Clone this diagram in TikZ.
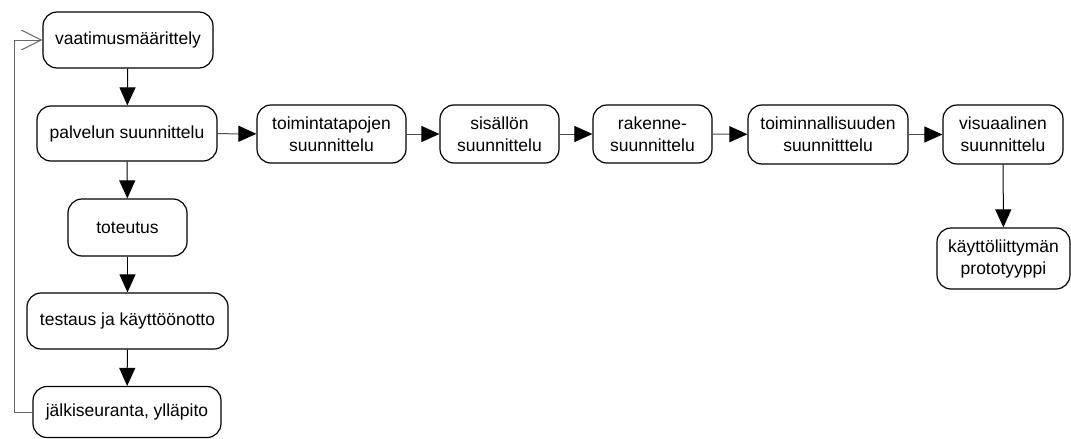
\documentclass[tikz,border=0pt]{standalone}
\usepackage{fontspec}
\setmainfont{Liberation Sans}
\usetikzlibrary{arrows.meta}
\begin{document}
\begin{tikzpicture}[x=1pt,y=-1pt,
  box/.style={draw=black,line width=1.2pt,rounded corners=14pt,align=center,
    inner sep=0pt,font=\fontsize{17.5}{22}\selectfont},
  flow/.style={line width=1pt,-{Triangle[length=18pt,width=16pt,color=black]}},
  back/.style={line width=1pt,draw=black!60,-{Straight Barb[length=20pt,width=20pt,line width=1pt]}}]
\useasboundingbox (0,0) rectangle (1071,439);
% left column: main process
\node[box,minimum width=170pt,minimum height=56pt] (vaat) at (128,40) {vaatimusmäärittely};
\node[box,minimum width=180pt,minimum height=55pt] (palv) at (127,133.5) {palvelun suunnittelu};
\node[box,minimum width=119pt,minimum height=57pt] (tote) at (127.5,227.5) {toteutus};
\node[box,minimum width=201pt,minimum height=56pt] (test) at (127.5,321) {testaus ja käyttöönotto};
\node[box,minimum width=188pt,minimum height=51pt] (jalk) at (127,412) {jälkiseuranta, ylläpito};
% design row
\node[box,minimum width=149pt,minimum height=58pt] (toim) at (331.5,134) {toimintatapojen\\suunnittelu};
\node[box,minimum width=119pt,minimum height=58pt] (sis) at (499.5,134) {sisällön\\suunnittelu};
\node[box,minimum width=119pt,minimum height=58pt] (rak) at (652.5,134) {rakenne-\\suunnittelu};
\node[box,minimum width=160pt,minimum height=59pt] (toimn) at (828,134.5) {toiminnallisuuden\\suunnitttelu};
\node[box,minimum width=120pt,minimum height=59pt] (vis) at (1003,134.5) {visuaalinen\\suunnittelu};
\node[box,minimum width=133pt,minimum height=61pt] (kay) at (1003.5,258.5) {käyttöliittymän\\prototyyppi};
% connectors
\draw[flow] (vaat) -- (palv);
\draw[flow] (palv) -- (tote);
\draw[flow] (tote) -- (test);
\draw[flow] (test) -- (jalk);
\draw[flow,draw=black!70] (palv) -- (toim);
\draw[flow,draw=black!70] (toim) -- (sis);
\draw[flow,draw=black!70] (sis) -- (rak);
\draw[flow,draw=black!70] (rak) -- (toimn);
\draw[flow,draw=black!70] (toimn) -- (vis);
\draw[flow] (vis) -- (kay);
% feedback loop
\coordinate (fb) at (14,0);
\draw[back] (jalk.west) -- (jalk.west -| fb) -- (vaat.west -| fb) -- (vaat.west);
\end{tikzpicture}
\end{document}
